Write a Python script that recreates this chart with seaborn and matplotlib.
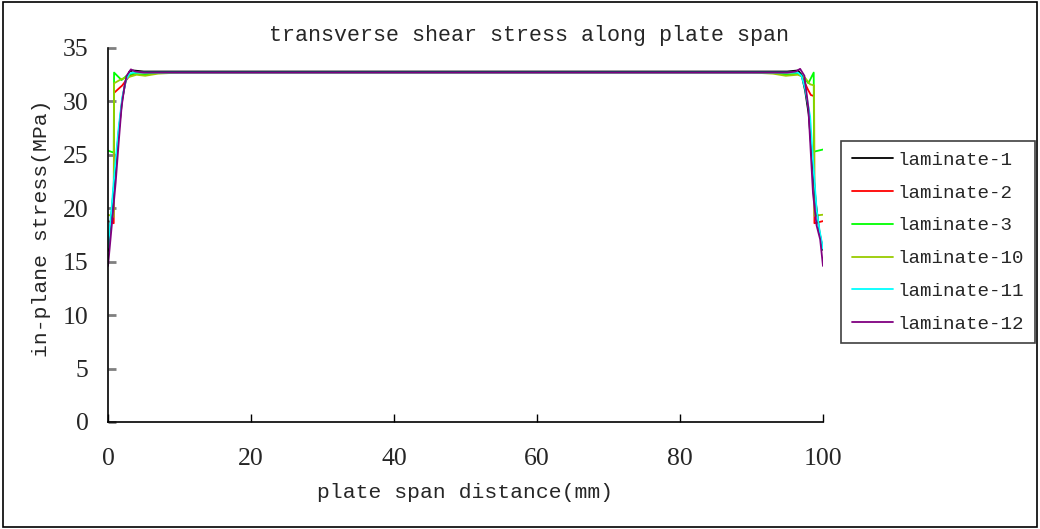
import numpy as np
import pandas as pd
import matplotlib
matplotlib.use("Agg")
import matplotlib.pyplot as plt
from matplotlib.patches import Rectangle
import seaborn as sns

# ---- data: transverse shear stress (MPa) vs. span position (mm) ----
x_lam1 = [0, 0.5, 1.0, 1.5, 2.0, 2.5, 3.0, 3.5, 5, 10, 50, 90, 95, 96.5, 97.0, 97.5, 98.0, 98.5, 99.0, 99.5, 100]
y_lam1 = [16.0, 19.6, 23.4, 27.2, 30.2, 32.0, 32.8, 32.9, 32.8, 32.8, 32.8, 32.8, 32.8, 32.9, 32.5, 31.0, 28.8, 24.5, 20.5, 17.8, 16.1]

x_lam2 = [0, 0.8, 0.85, 1.5, 2.0, 3.0, 4.0, 6, 10, 50, 90, 94, 96, 97.0, 97.9, 98.3, 98.75, 98.8, 100]
y_lam2 = [18.8, 18.6, 30.8, 31.2, 31.5, 32.4, 32.7, 32.7, 32.7, 32.7, 32.7, 32.7, 32.7, 32.4, 31.1, 30.6, 30.5, 18.6, 18.8]

x_lam3 = [0, 0.8, 0.85, 1.3, 1.9, 2.6, 3.5, 5.0, 6.0, 8, 50, 92, 94.0, 95.0, 96.5, 97.3, 97.95, 98.7, 98.75, 100]
y_lam3 = [25.4, 25.2, 32.7, 32.4, 32.0, 32.4, 32.6, 32.5, 32.6, 32.75, 32.75, 32.75, 32.6, 32.5, 32.6, 32.3, 31.7, 32.7, 25.3, 25.5]

x_lam10 = [0, 0.8, 0.85, 1.9, 3.0, 4.0, 5.2, 7.0, 10, 50, 90, 93, 94.8, 96.5, 97.5, 98.2, 98.75, 98.8, 100]
y_lam10 = [19.4, 19.2, 31.7, 32.1, 32.3, 32.5, 32.4, 32.6, 32.7, 32.7, 32.7, 32.6, 32.4, 32.5, 32.2, 31.6, 31.5, 19.3, 19.4]

x_lam11 = [0, 0.5, 1.0, 1.5, 2.0, 2.5, 3.0, 3.5, 5, 50, 95, 96.5, 97.0, 97.5, 98.2, 98.6, 99.1, 99.5, 100]
y_lam11 = [16.3, 20.0, 24.0, 27.6, 30.4, 32.0, 32.6, 32.7, 32.7, 32.7, 32.7, 32.7, 32.4, 31.2, 28.6, 24.5, 19.9, 18.0, 16.2]

x_lam12 = [0, 0.5, 1.07, 1.5, 1.9, 2.3, 2.6, 3.2, 3.8, 5, 50, 95, 96.2, 96.8, 97.4, 97.95, 98.6, 99.1, 99.6, 100]
y_lam12 = [14.6, 18.2, 22.4, 26.2, 29.5, 31.4, 32.4, 33.0, 32.8, 32.7, 32.7, 32.7, 32.8, 33.05, 32.4, 29.4, 21.4, 18.4, 17.1, 14.6]

series_names = ["laminate-1", "laminate-2", "laminate-3", "laminate-10", "laminate-11", "laminate-12"]
series_x = [x_lam1, x_lam2, x_lam3, x_lam10, x_lam11, x_lam12]
series_y = [y_lam1, y_lam2, y_lam3, y_lam10, y_lam11, y_lam12]
series_colors = ["#000000", "#ff0000", "#00ff00", "#99cc00", "#00ffff", "#800080"]

x_ticks = [0, 20, 40, 60, 80, 100]
y_ticks = [0, 5, 10, 15, 20, 25, 30, 35]

# ---- styling ----
sns.set_theme(style="white")
mono = ["Liberation Mono", "DejaVu Sans Mono"]
serif = ["Liberation Serif", "DejaVu Serif"]

fig = plt.figure(figsize=(10.4, 5.29), dpi=100)
ax = fig.add_axes([108 / 1040, 1 - 422 / 529, (823 - 108) / 1040, (422 - 48) / 529])

draw_order = [1, 2, 3, 0, 4, 5]
for i in draw_order:
    df = pd.DataFrame({"x": series_x[i], "y": series_y[i]})
    sns.lineplot(data=df, x="x", y="y", ax=ax, color=series_colors[i],
                 estimator=None, sort=False, linewidth=1.3, label=series_names[i])

ax.set_xlim(0, 100)
ax.set_ylim(0, 35)
ax.set_xticks(x_ticks)
ax.set_yticks(y_ticks)
ax.set_xticklabels([str(v) for v in x_ticks], family=serif, fontsize=18.5)
ax.set_yticklabels([str(v) for v in y_ticks], family=serif, fontsize=18.5)

for side in ["top", "right"]:
    ax.spines[side].set_visible(False)
for side in ["left", "bottom"]:
    ax.spines[side].set_visible(True)
    ax.spines[side].set_color("black")
    ax.spines[side].set_linewidth(1.2)

ax.tick_params(axis="x", direction="in", length=6, width=1, color="black", pad=19, bottom=True)
ax.tick_params(axis="y", direction="in", length=6, width=2, color="#808080", pad=14, left=True)

ax.set_xlabel("plate span distance(mm)", family=mono, fontsize=15.4)
ax.xaxis.set_label_coords(0.5, -(492 - 422) / 374, transform=ax.transAxes)
ax.xaxis.label.set_va("center")
ax.set_ylabel("in-plane stress(MPa)", family=mono, fontsize=15.4)
ax.yaxis.set_label_coords(-(108 - 42) / 715, (422 - 228) / 374, transform=ax.transAxes)
ax.yaxis.label.set_va("center")
fig.text(529 / 1040, 1 - 35 / 529, "transverse shear stress along plate span",
         family=mono, fontsize=15.6, ha="center", va="center")

# legend in the right margin, listed in series order
handles, labels = ax.get_legend_handles_labels()
order = [labels.index(n) for n in series_names]
leg = ax.legend([handles[k] for k in order], [labels[k] for k in order],
                loc="upper left", bbox_to_anchor=(841 / 1040, 1 - 141 / 529),
                bbox_transform=fig.transFigure, borderaxespad=0,
                prop={"family": mono, "size": 13.8}, frameon=True, fancybox=False,
                edgecolor="#404040", framealpha=1, handlelength=2.15,
                handletextpad=0.25, labelspacing=0.8, borderpad=0.55)
leg.get_frame().set_linewidth(1.2)

# outer frame around the whole figure
fig.patches.append(Rectangle((0.003, 0.004), 0.994, 0.992, transform=fig.transFigure,
                             fill=False, edgecolor="black", linewidth=1.2))

fig.savefig("out.png", dpi=100)
